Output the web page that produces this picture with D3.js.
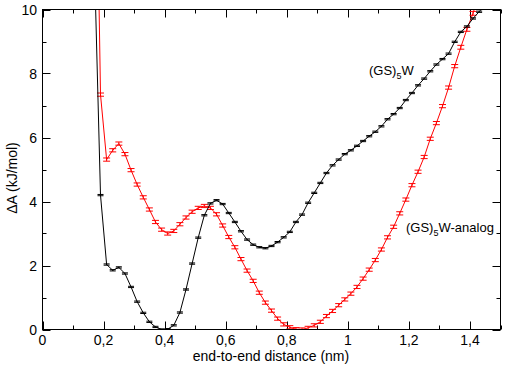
<!DOCTYPE html>
<html><head><meta charset="utf-8">
<script src="https://cdn.jsdelivr.net/npm/d3@7"></script>
<style>body{margin:0;background:#fff}svg{display:block}text{font-family:"Liberation Sans",Arial,sans-serif}</style>
</head><body><svg id="c" width="506" height="369"></svg>
<script>
// distance grid (nm)
const distance = [0.17,0.19,0.21,0.23,0.25,0.27,0.29,0.31,0.33,0.35,0.37,0.39,0.41,0.43,0.45,0.47,0.49,0.51,0.53,0.55,0.57,0.59,0.61,0.63,0.65,0.67,0.69,0.71,0.73,0.75,0.77,0.79,0.81,0.83,0.85,0.87,0.89,0.91,0.93,0.95,0.97,0.99,1.01,1.03,1.05,1.07,1.09,1.11,1.13,1.15,1.17,1.19,1.21,1.23,1.25,1.27,1.29,1.31,1.33,1.35,1.37,1.39,1.41,1.43,1.45];
// (GS)5W  free energy (kJ/mol)
const gs5w = [11.5,4.2,2.03,1.85,1.94,1.75,1.33,0.87,0.52,0.24,0.08,0.0,0.01,0.13,0.53,1.25,2.06,2.87,3.57,3.94,4.04,3.92,3.64,3.36,3.07,2.81,2.65,2.57,2.54,2.61,2.73,2.88,3.05,3.36,3.59,3.96,4.27,4.58,4.89,5.13,5.31,5.48,5.6,5.74,5.89,6.04,6.18,6.35,6.57,6.73,6.92,7.17,7.39,7.63,7.84,8.07,8.28,8.45,8.62,8.99,9.3,9.47,9.72,9.93,10.15];
const gs5wErr = [0.02,0.02,0.02,0.02,0.02,0.02,0.02,0.02,0.02,0.02,0.02,0.02,0.02,0.02,0.02,0.02,0.02,0.02,0.02,0.02,0.02,0.02,0.02,0.02,0.02,0.02,0.02,0.02,0.02,0.02,0.02,0.02,0.02,0.02,0.02,0.02,0.02,0.02,0.02,0.02,0.02,0.02,0.02,0.02,0.02,0.02,0.02,0.02,0.02,0.02,0.02,0.02,0.02,0.02,0.02,0.02,0.02,0.02,0.02,0.02,0.02,0.02,0.02,0.02,0.02];
// (GS)5W-analog free energy (kJ/mol)
const analog = [19,7.34,5.31,5.6,5.81,5.48,4.98,4.53,4.13,3.75,3.36,3.12,3.0,3.08,3.29,3.5,3.68,3.8,3.86,3.8,3.6,3.25,2.89,2.57,2.2,1.84,1.52,1.15,0.84,0.59,0.34,0.16,0.07,0.01,0.0,0.05,0.13,0.24,0.42,0.58,0.76,0.94,1.12,1.33,1.59,1.87,2.17,2.5,2.88,3.21,3.63,4.06,4.51,4.93,5.39,5.96,6.45,6.98,7.56,8.23,8.82,9.38,9.88,10.5,11.2];
const analogErr = [0.05,0.05,0.05,0.05,0.05,0.05,0.05,0.05,0.05,0.05,0.05,0.05,0.05,0.05,0.05,0.05,0.05,0.05,0.05,0.05,0.05,0.05,0.05,0.05,0.05,0.05,0.05,0.05,0.05,0.05,0.05,0.05,0.05,0.05,0.05,0.05,0.05,0.05,0.05,0.05,0.05,0.05,0.05,0.05,0.05,0.05,0.05,0.05,0.05,0.05,0.05,0.05,0.05,0.05,0.05,0.05,0.05,0.05,0.05,0.05,0.06,0.06,0.06,0.06,0.06];
const xMajor = [0,0.2,0.4,0.6,0.8,1,1.2,1.4];
const xMajorLabels = ["0","0,2","0,4","0,6","0,8","1","1,2","1,4"];
const xMinor = [0.1,0.3,0.5,0.7,0.9,1.1,1.3,1.5];
const yMajor = [0,2,4,6,8,10];
const yMinor = [1,3,5,7,9];

const svg = d3.select("#c");
const x = d3.scaleLinear().domain([0,1.5]).range([42.5,500.5]);
const y = d3.scaleLinear().domain([0,10]).range([329.5,9.5]);
const L=42.5,R=500.5,T=9.5,B=329.5;

svg.append("clipPath").attr("id","clip").append("rect")
  .attr("x",L).attr("y",T).attr("width",R-L).attr("height",B-T);

// ticks (inside, all four sides)
const tk = svg.append("g").attr("stroke","#000").attr("stroke-width",1);
function xt(v,len){
  tk.append("line").attr("x1",Math.round(x(v))+0.5).attr("x2",Math.round(x(v))+0.5).attr("y1",B).attr("y2",B-len);
  tk.append("line").attr("x1",Math.round(x(v))+0.5).attr("x2",Math.round(x(v))+0.5).attr("y1",T).attr("y2",T+len);
}
function yt(v,len){
  tk.append("line").attr("y1",Math.round(y(v))+0.5).attr("y2",Math.round(y(v))+0.5).attr("x1",L).attr("x2",L+len);
  tk.append("line").attr("y1",Math.round(y(v))+0.5).attr("y2",Math.round(y(v))+0.5).attr("x1",R).attr("x2",R-len);
}
xMajor.forEach(v=>xt(v,8)); xMinor.forEach(v=>xt(v,4));
yMajor.forEach(v=>yt(v,8)); yMinor.forEach(v=>yt(v,4));

const plot = svg.append("g").attr("clip-path","url(#clip)");
function series(vals, errs, color, capHalf){
  const pts = distance.map((d,i)=>({d, v:vals[i], e:errs[i]}));
  plot.append("path").datum(pts)
    .attr("fill","none").attr("stroke",color).attr("stroke-width",1)
    .attr("d", d3.line().x(p=>x(p.d)).y(p=>y(p.v)));
  const g = plot.append("g").attr("stroke",color).attr("stroke-width",1);
  pts.forEach(p=>{
    const cx=x(p.d), y1=y(p.v-p.e), y2=y(p.v+p.e);
    g.append("line").attr("x1",cx).attr("x2",cx).attr("y1",y1).attr("y2",y2);
    g.append("line").attr("x1",cx-capHalf).attr("x2",cx+capHalf).attr("y1",y1).attr("y2",y1);
    g.append("line").attr("x1",cx-capHalf).attr("x2",cx+capHalf).attr("y1",y2).attr("y2",y2);
  });
}
series(analog, analogErr, "#ff0000", 3.5);
series(gs5w, gs5wErr, "#000000", 3);

// frame
svg.append("rect").attr("x",L).attr("y",T).attr("width",R-L).attr("height",B-T)
  .attr("fill","none").attr("stroke","#000").attr("stroke-width",1);

// tick labels
const fs=14;
svg.append("g").selectAll("text").data(xMajor).join("text")
  .attr("x",d=>x(d)).attr("y",345).attr("text-anchor","middle").attr("font-size",fs)
  .text((d,i)=>xMajorLabels[i]);
svg.append("g").selectAll("text").data(yMajor).join("text")
  .attr("x",37).attr("y",d=>y(d)+5).attr("text-anchor","end").attr("font-size",fs)
  .text(d=>String(d));

svg.append("text").attr("x",271).attr("y",361).attr("text-anchor","middle").attr("font-size",fs)
  .text("end-to-end distance (nm)");
svg.append("text").attr("transform","translate(17,178) rotate(-90)").attr("text-anchor","middle").attr("font-size",fs)
  .text("ΔA (kJ/mol)");

// curve labels
function lab(xp,yp,parts){
  const t=svg.append("text").attr("x",xp).attr("y",yp).attr("font-size",13);
  t.append("tspan").text(parts[0]);
  t.append("tspan").attr("font-size",9).attr("dy",4).text("5");
  t.append("tspan").attr("dy",-4).text(parts[1]);
}
lab(369,75,["(GS)","W"]);
lab(406,232,["(GS)","W-analog"]);
</script></body></html>
